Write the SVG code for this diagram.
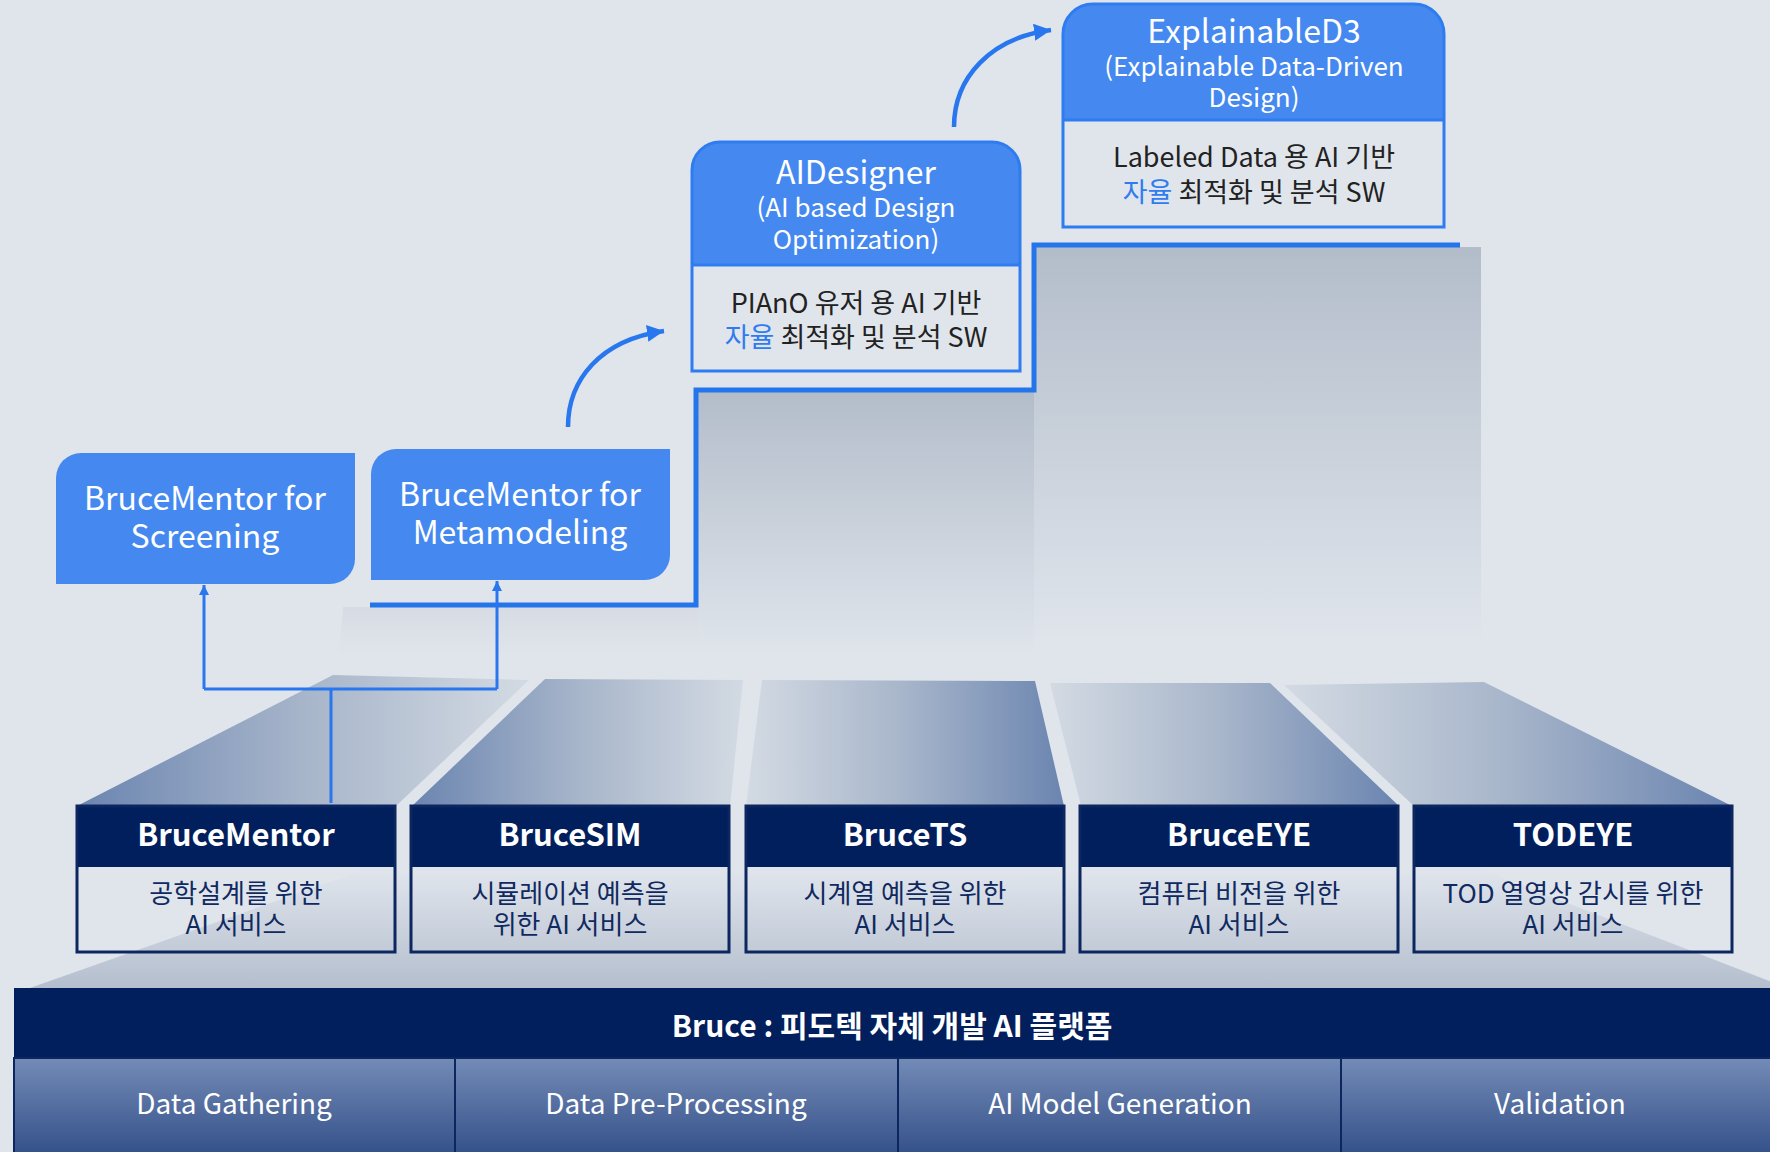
<svg xmlns="http://www.w3.org/2000/svg" width="1770" height="1152" viewBox="0 0 1770 1152">
  <defs>
    <style>
      text { font-family: "Noto Sans CJK KR", "Noto Sans", sans-serif; text-anchor: middle; }
      .wt { fill: #ffffff; }
      .hd { font-size: 32px; }
      .sub { font-size: 26px; }
      .body { font-size: 27px; fill: #222222; }
      .hl { fill: #2f7cf0; }
      .tier-title { font-size: 31px; font-weight: 700; fill: #ffffff; }
      .tier-text { font-size: 26px; fill: #102a60; }
      .plat-title { font-size: 30px; font-weight: 700; fill: #ffffff; }
      .cell-text { font-size: 28px; fill: #ffffff; }
      .blue-box { fill: #4589f0; }
      .card-frame { fill: none; stroke: #2f7cf0; stroke-width: 3; }
      .tier-frame { fill: none; stroke: #0c2660; stroke-width: 3; }
      .tier-head { fill: #001f5c; }
      .cell { fill: url(#cellGrad); stroke: #0c2660; stroke-width: 2; }
      .link { fill: none; stroke: #2877ee; stroke-width: 3; }
      .curve { fill: none; stroke: #2877ee; stroke-width: 4.5; }
    </style>
    <marker id="tri" viewBox="0 0 10 10" refX="10" refY="5" markerWidth="12" markerHeight="10" markerUnits="userSpaceOnUse" orient="auto">
      <path d="M0,0 L10,5 L0,10 Z" fill="#2877ee"/>
    </marker>
    <marker id="triBig" viewBox="0 0 10 10" refX="10" refY="5" markerWidth="17" markerHeight="17" markerUnits="userSpaceOnUse" orient="auto">
      <path d="M0,0 L10,5 L0,10 Z" fill="#2877ee"/>
    </marker>
    <linearGradient id="darkLeft" x1="0" y1="0" x2="1" y2="0">
      <stop offset="0" stop-color="#6b85b0"/>
      <stop offset="0.5" stop-color="#a7b5ca"/>
      <stop offset="1" stop-color="#d3dae3"/>
    </linearGradient>
    <linearGradient id="darkRight" x1="0" y1="0" x2="1" y2="0">
      <stop offset="0" stop-color="#d3dae3"/>
      <stop offset="0.5" stop-color="#a7b5ca"/>
      <stop offset="1" stop-color="#6b85b0"/>
    </linearGradient>
    <linearGradient id="baseGrad" x1="0" y1="870" x2="0" y2="989" gradientUnits="userSpaceOnUse">
      <stop offset="0" stop-color="#e0e5ec"/>
      <stop offset="1" stop-color="#b4bece"/>
    </linearGradient>
    <linearGradient id="stepA" x1="0" y1="607" x2="0" y2="655" gradientUnits="userSpaceOnUse">
      <stop offset="0" stop-color="#d7dce4"/>
      <stop offset="1" stop-color="#e0e5ec"/>
    </linearGradient>
    <linearGradient id="stepB" x1="0" y1="392" x2="0" y2="655" gradientUnits="userSpaceOnUse">
      <stop offset="0" stop-color="#b3bdca"/>
      <stop offset="1" stop-color="#e0e5ec"/>
    </linearGradient>
    <linearGradient id="stepC" x1="0" y1="248" x2="0" y2="645" gradientUnits="userSpaceOnUse">
      <stop offset="0" stop-color="#b3bdca"/>
      <stop offset="1" stop-color="#e0e5ec"/>
    </linearGradient>
    <linearGradient id="cellGrad" x1="0" y1="1058" x2="0" y2="1152" gradientUnits="userSpaceOnUse">
      <stop offset="0" stop-color="#738bb6"/>
      <stop offset="1" stop-color="#36528b"/>
    </linearGradient>
  </defs>

  <!-- page background -->
  <rect x="0" y="0" width="1770" height="1152" fill="#e0e5ec"/>

  <!-- base slab rising behind the service row -->
  <polygon points="27,989 364,870 1482,870 1790,989" fill="url(#baseGrad)"/>

  <!-- perspective pillars above each service -->
  <g id="pillars">
    <polygon points="77,806 333,675 529,680 396,806" fill="url(#darkLeft)"/>
    <polygon points="412,806 545,679 743,680 730,806" fill="url(#darkLeft)"/>
    <polygon points="746,806 762,680 1035,681 1064,806" fill="url(#darkRight)"/>
    <polygon points="1081,806 1050,683 1270,683 1399,806" fill="url(#darkRight)"/>
    <polygon points="1414,806 1284,685 1484,682 1732,806" fill="url(#darkRight)"/>
  </g>

  <!-- staircase steps -->
  <g id="stairs">
    <polygon points="343,607 700,607 700,655 339,655" fill="url(#stepA)"/>
    <rect x="698" y="392" width="336" height="263" fill="url(#stepB)"/>
    <rect x="1034" y="247" width="447" height="400" fill="url(#stepC)"/>
    <path d="M370,605 H696 V390 H1034 V245 H1460" fill="none" stroke="#2575ea" stroke-width="5"/>
  </g>

  <!-- connectors -->
  <g id="connectors">
    <path class="link" d="M331,803 V689"/>
    <path class="link" d="M204,689 H497"/>
    <path class="link" d="M204,689 V585" marker-end="url(#tri)"/>
    <path class="link" d="M497,689 V581" marker-end="url(#tri)"/>
    <path class="curve" d="M568,427 C568,380 600,340 664,331" marker-end="url(#triBig)"/>
    <path class="curve" d="M954,127 C954,78 990,38 1051,30" marker-end="url(#triBig)"/>
  </g>

  <!-- BruceMentor for Screening -->
  <g id="screening">
    <path class="blue-box" d="M56,478 A25,25 0 0 1 81,453 H355 V559 A25,25 0 0 1 330,584 H56 Z"/>
    <text class="wt hd" x="205" y="510">BruceMentor for<tspan x="205" dy="38">Screening</tspan></text>
  </g>

  <!-- BruceMentor for Metamodeling -->
  <g id="metamodeling">
    <path class="blue-box" d="M371,474 A25,25 0 0 1 396,449 H670 V555 A25,25 0 0 1 645,580 H371 Z"/>
    <text class="wt hd" x="520" y="506">BruceMentor for<tspan x="520" dy="38">Metamodeling</tspan></text>
  </g>

  <!-- AIDesigner -->
  <g id="aidesigner">
    <path class="blue-box" d="M692,265 V170 A28,28 0 0 1 720,142 H992 A28,28 0 0 1 1020,170 V265 Z"/>
    <path class="card-frame" d="M692,371 V170 A28,28 0 0 1 720,142 H992 A28,28 0 0 1 1020,170 V371 Z"/>
    <line x1="692" y1="265" x2="1020" y2="265" stroke="#2f7cf0" stroke-width="3"/>
    <text class="wt" x="856" y="184"><tspan class="hd">AIDesigner</tspan><tspan class="sub" x="856" dy="33">(AI based Design</tspan><tspan class="sub" x="856" dy="32">Optimization)</tspan></text>
    <text class="body" x="856" y="313">PIAnO 유저 용 AI 기반<tspan x="856" dy="34"><tspan class="hl">자율</tspan> 최적화 및 분석 SW</tspan></text>
  </g>

  <!-- ExplainableD3 -->
  <g id="explainabled3">
    <path class="blue-box" d="M1063,120 V34 A30,30 0 0 1 1093,4 H1414 A30,30 0 0 1 1444,34 V120 Z"/>
    <path class="card-frame" d="M1063,227 V34 A30,30 0 0 1 1093,4 H1414 A30,30 0 0 1 1444,34 V227 Z"/>
    <line x1="1063" y1="120" x2="1444" y2="120" stroke="#2f7cf0" stroke-width="3"/>
    <text class="wt" x="1254" y="43"><tspan class="hd">ExplainableD3</tspan><tspan class="sub" x="1254" dy="33">(Explainable Data-Driven</tspan><tspan class="sub" x="1254" dy="31">Design)</tspan></text>
    <text class="body" x="1254" y="167">Labeled Data 용 AI 기반<tspan x="1254" dy="35"><tspan class="hl">자율</tspan> 최적화 및 분석 SW</tspan></text>
  </g>

  <!-- service row -->
  <g id="brucementor">
    <rect class="tier-head" x="77" y="806" width="318" height="61"/>
    <rect class="tier-frame" x="77" y="806" width="318" height="146"/>
    <text class="tier-title" x="236" y="846">BruceMentor</text>
    <text class="tier-text" x="236" y="903">공학설계를 위한<tspan x="236" dy="31">AI 서비스</tspan></text>
  </g>
  <g id="brucesim">
    <rect class="tier-head" x="411" y="806" width="318" height="61"/>
    <rect class="tier-frame" x="411" y="806" width="318" height="146"/>
    <text class="tier-title" x="570" y="846">BruceSIM</text>
    <text class="tier-text" x="570" y="903">시뮬레이션 예측을<tspan x="570" dy="31">위한 AI 서비스</tspan></text>
  </g>
  <g id="brucets">
    <rect class="tier-head" x="746" y="806" width="318" height="61"/>
    <rect class="tier-frame" x="746" y="806" width="318" height="146"/>
    <text class="tier-title" x="905" y="846">BruceTS</text>
    <text class="tier-text" x="905" y="903">시계열 예측을 위한<tspan x="905" dy="31">AI 서비스</tspan></text>
  </g>
  <g id="bruceeye">
    <rect class="tier-head" x="1080" y="806" width="318" height="61"/>
    <rect class="tier-frame" x="1080" y="806" width="318" height="146"/>
    <text class="tier-title" x="1239" y="846">BruceEYE</text>
    <text class="tier-text" x="1239" y="903">컴퓨터 비전을 위한<tspan x="1239" dy="31">AI 서비스</tspan></text>
  </g>
  <g id="todeye">
    <rect class="tier-head" x="1414" y="806" width="318" height="61"/>
    <rect class="tier-frame" x="1414" y="806" width="318" height="146"/>
    <text class="tier-title" x="1573" y="846">TODEYE</text>
    <text class="tier-text" x="1573" y="903">TOD 열영상 감시를 위한<tspan x="1573" dy="31">AI 서비스</tspan></text>
  </g>

  <!-- platform -->
  <g id="platform">
    <rect x="14" y="988" width="1780" height="70" fill="#001f5c"/>
    <text class="plat-title" x="892" y="1037">Bruce : 피도텍 자체 개발 AI 플랫폼</text>
    <rect class="cell" x="14" y="1058" width="441" height="100"/>
    <rect class="cell" x="455" y="1058" width="443" height="100"/>
    <rect class="cell" x="898" y="1058" width="443" height="100"/>
    <rect class="cell" x="1341" y="1058" width="450" height="100"/>
    <text class="cell-text" x="234" y="1114">Data Gathering</text>
    <text class="cell-text" x="676" y="1114">Data Pre-Processing</text>
    <text class="cell-text" x="1120" y="1114">AI Model Generation</text>
    <text class="cell-text" x="1560" y="1114">Validation</text>
  </g>
</svg>
